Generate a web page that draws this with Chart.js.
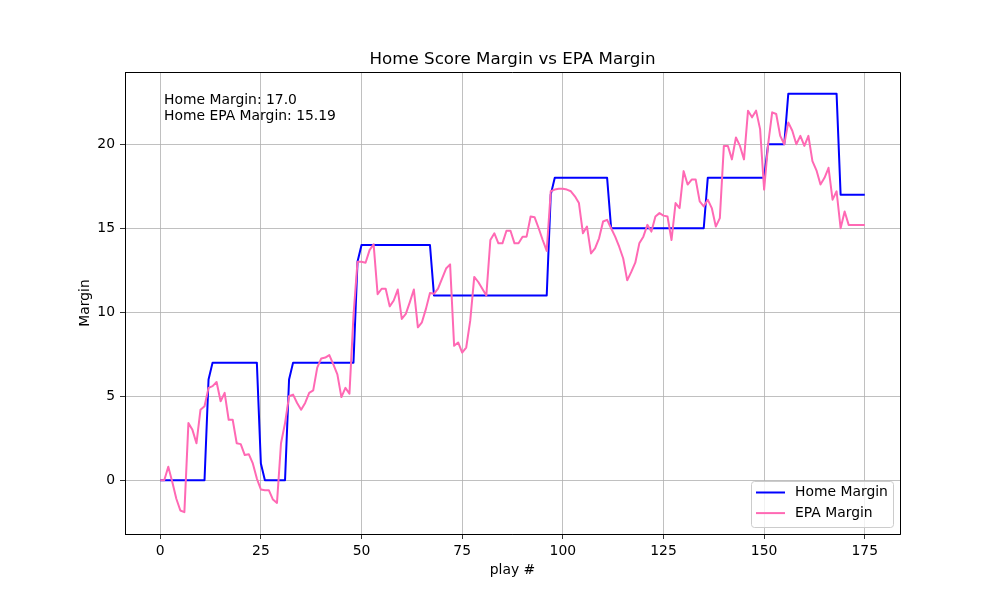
<!DOCTYPE html>
<html lang="en">

<head>
    <meta charset="UTF-8">
    <title>Home Score Margin vs EPA Margin</title>
    <style>
        body {
            margin: 0;
            background: #fff;
        }

        #wrap {
            width: 1000px;
            height: 600px;
        }
    </style>
    <script src="https://cdn.jsdelivr.net/npm/chart.js"></script>
</head>

<body>
    <div id="wrap"><canvas id="chart" width="1000" height="600"></canvas></div>

    <script>
        // Home score margin after each play
        const homeMargin = [
            0, 0, 0, 0, 0, 0, 0, 0, 0, 0,
            0, 0, 6, 7, 7, 7, 7, 7, 7, 7,
            7, 7, 7, 7, 7, 1, 0, 0, 0, 0,
            0, 0, 6, 7, 7, 7, 7, 7, 7, 7,
            7, 7, 7, 7, 7, 7, 7, 7, 7, 13,
            14, 14, 14, 14, 14, 14, 14, 14, 14, 14,
            14, 14, 14, 14, 14, 14, 14, 14, 11, 11,
            11, 11, 11, 11, 11, 11, 11, 11, 11, 11,
            11, 11, 11, 11, 11, 11, 11, 11, 11, 11,
            11, 11, 11, 11, 11, 11, 11, 17, 18, 18,
            18, 18, 18, 18, 18, 18, 18, 18, 18, 18,
            18, 18, 15, 15, 15, 15, 15, 15, 15, 15,
            15, 15, 15, 15, 15, 15, 15, 15, 15, 15,
            15, 15, 15, 15, 15, 15, 18, 18, 18, 18,
            18, 18, 18, 18, 18, 18, 18, 18, 18, 18,
            18, 20, 20, 20, 20, 20, 23, 23, 23, 23,
            23, 23, 23, 23, 23, 23, 23, 23, 23, 17,
            17, 17, 17, 17, 17, 17
        ];

        // Cumulative EPA margin after each play
        const epaMargin = [
            0, 0, 0.8, -0.1, -1.1, -1.8, -1.9, 3.4, 3.0, 2.2,
            4.2, 4.4, 5.5, 5.6, 5.85, 4.7, 5.2, 3.6, 3.6, 2.2,
            2.15, 1.5, 1.55, 1.0, 0.1, -0.55, -0.6, -0.6, -1.15, -1.35,
            2.2, 3.4, 5.0, 5.1, 4.6, 4.2, 4.6, 5.2, 5.35, 6.7,
            7.25, 7.3, 7.45, 6.9, 6.3, 4.95, 5.5, 5.15, 9.8, 13.0,
            13.0, 12.95, 13.7, 14.05, 11.07, 11.4, 11.4, 10.35, 10.7, 11.35,
            9.6, 9.9, 10.6, 11.35, 9.1, 9.4, 10.2, 11.15, 11.1, 11.4,
            12.0, 12.6, 12.85, 8.0, 8.2, 7.6, 7.9, 9.5, 12.1, 11.8,
            11.4, 11.0, 14.3, 14.7, 14.1, 14.1, 14.85, 14.85, 14.1, 14.1,
            14.5, 14.5, 15.7, 15.65, 15.0, 14.3, 13.65, 17.2, 17.3, 17.35,
            17.35, 17.3, 17.2, 16.9, 16.5, 14.7, 15.1, 13.5, 13.8, 14.4,
            15.4, 15.5, 15.0, 14.5, 13.9, 13.2, 11.9, 12.4, 12.95, 14.1,
            14.5, 15.2, 14.8, 15.7, 15.9, 15.75, 15.7, 14.3, 16.5, 16.2,
            18.4, 17.6, 17.9, 17.9, 16.6, 16.3, 16.7, 16.2, 15.1, 15.6,
            19.9, 19.9, 19.1, 20.4, 19.9, 19.1, 22.0, 21.6, 22.0, 20.9,
            17.3, 20.0, 21.9, 21.8, 20.5, 20.0, 21.3, 20.8, 20.0, 20.5,
            19.9, 20.5, 19.0, 18.45, 17.6, 18.0, 18.6, 16.7, 17.2, 15.0,
            16.0, 15.2, 15.19, 15.19, 15.19, 15.19
        ];

        const xTicks = [0, 25, 50, 75, 100, 125, 150, 175];
        const yTicks = [0, 5, 10, 15, 20];

        const seriesLabels = ['Home Margin', 'EPA Margin'];
        const seriesColors = ['#0000ff', '#ff69b4'];
        const noteLines = ['Home Margin: 17.0', 'Home EPA Margin: 15.19'];

        const FONT = "'DejaVu Sans', sans-serif";

        // title, axis labels, frame, note and legend, drawn the matplotlib way
        const decorations = {
            id: 'decorations',
            afterDraw(chart) {
                const { ctx, chartArea: a } = chart;
                ctx.save();

                // top / right spines
                ctx.strokeStyle = '#000';
                ctx.lineWidth = 1;
                ctx.beginPath();
                ctx.moveTo(a.left, a.top + 0.5);
                ctx.lineTo(a.right + 0.5, a.top + 0.5);
                ctx.lineTo(a.right + 0.5, a.bottom);
                ctx.stroke();

                ctx.fillStyle = '#000';
                ctx.textAlign = 'center';
                ctx.textBaseline = 'alphabetic';
                ctx.font = `16.7px ${FONT}`;
                ctx.fillText('Home Score Margin vs EPA Margin', (a.left + a.right) / 2, a.top - 8);

                ctx.font = `13.9px ${FONT}`;
                ctx.textBaseline = 'top';
                ctx.fillText('play #', (a.left + a.right) / 2, 563);

                ctx.save();
                ctx.translate(85, (a.top + a.bottom) / 2);
                ctx.rotate(-Math.PI / 2);
                ctx.textBaseline = 'middle';
                ctx.fillText('Margin', 0, 0);
                ctx.restore();

                // note in the upper left corner
                ctx.textAlign = 'left';
                ctx.textBaseline = 'top';
                noteLines.forEach((t, i) => {
                    ctx.fillText(t, a.left + 39, a.top + 21 + i * 16);
                });

                // legend, lower right
                const w = 142, h = 46;
                const lx = a.right - 7 - w, ly = a.bottom - 7 - h;
                ctx.fillStyle = 'rgba(255,255,255,0.8)';
                ctx.strokeStyle = '#cccccc';
                ctx.beginPath();
                ctx.roundRect(lx + 0.5, ly + 0.5, w, h, 3);
                ctx.fill();
                ctx.stroke();

                ctx.textBaseline = 'middle';
                seriesLabels.forEach((lab, i) => {
                    const yy = ly + 11.5 + i * 20.6;
                    ctx.strokeStyle = seriesColors[i];
                    ctx.lineWidth = 2;
                    ctx.beginPath();
                    ctx.moveTo(lx + 5, yy);
                    ctx.lineTo(lx + 34, yy);
                    ctx.stroke();
                    ctx.fillStyle = '#000';
                    ctx.fillText(lab, lx + 44, yy);
                });

                ctx.restore();
            }
        };

        const fixTicks = list => axis => {
            axis.ticks = list.map(v => ({ value: v }));
        };

        const ctx = document.getElementById('chart').getContext('2d');
        const chart = new Chart(ctx, {
            type: 'line',
            data: {
                datasets: [
                    {
                        label: seriesLabels[0],
                        data: homeMargin.map((v, i) => ({ x: i, y: v })),
                        borderColor: seriesColors[0],
                        borderWidth: 2,
                        order: 2
                    },
                    {
                        label: seriesLabels[1],
                        data: epaMargin.map((v, i) => ({ x: i, y: v })),
                        borderColor: seriesColors[1],
                        borderWidth: 2,
                        order: 1
                    }
                ]
            },
            options: {
                responsive: false,
                animation: false,
                devicePixelRatio: 1,
                layout: { padding: { left: 0, top: 72, right: 100, bottom: 0 } },
                elements: {
                    point: { radius: 0 },
                    line: { tension: 0, borderJoinStyle: 'round', fill: false }
                },
                plugins: {
                    legend: { display: false },
                    tooltip: { enabled: false }
                },
                scales: {
                    x: {
                        type: 'linear',
                        min: -8.75,
                        max: 183.75,
                        afterBuildTicks: fixTicks(xTicks),
                        afterFit: s => { s.height = 66; },
                        grid: { color: '#b0b0b0', lineWidth: 0.8, tickColor: '#000', tickLength: 5 },
                        border: { color: '#000', width: 1 },
                        ticks: { color: '#000', font: { family: FONT, size: 13.9 }, padding: 4, maxRotation: 0 }
                    },
                    y: {
                        min: -3.2,
                        max: 24.3,
                        afterBuildTicks: fixTicks(yTicks),
                        afterFit: s => { s.width = 125; },
                        grid: { color: '#b0b0b0', lineWidth: 0.8, tickColor: '#000', tickLength: 5 },
                        border: { color: '#000', width: 1 },
                        ticks: { color: '#000', font: { family: FONT, size: 13.9 }, padding: 5 }
                    }
                }
            },
            plugins: [decorations]
        });
    </script>
</body>

</html>
